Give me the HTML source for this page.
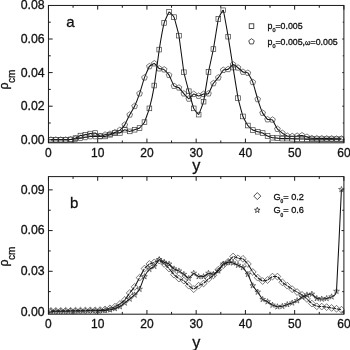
<!DOCTYPE html>
<html><head><meta charset="utf-8"><title>plot</title><style>html,body{margin:0;padding:0;background:#fff}svg{display:block;will-change:transform}</style></head><body>
<svg width="350" height="350" viewBox="0 0 350 350">
<rect width="350" height="350" fill="#fff"/>
<defs><clipPath id="ca"><rect x="48.45" y="5.45" width="295.95" height="137.35000000000002"/></clipPath><clipPath id="cb"><rect x="48.45" y="176.6" width="295.95" height="137.6"/></clipPath></defs>
<g clip-path="url(#ca)">
<path d="M50.91 139.80C51.11 139.80 55.44 139.80 55.84 139.80C56.23 139.80 60.37 139.80 60.76 139.80C61.15 139.80 65.29 139.81 65.68 139.80C66.08 139.79 70.21 139.50 70.61 139.46C71.00 139.43 75.14 139.01 75.53 138.96C75.93 138.91 80.06 138.19 80.46 138.12C80.85 138.05 84.99 137.35 85.38 137.28C85.77 137.21 89.91 136.47 90.30 136.44C90.70 136.41 94.83 136.44 95.23 136.44C95.62 136.44 99.76 136.51 100.15 136.44C100.55 136.37 104.68 134.86 105.08 134.76C105.47 134.66 109.61 134.01 110.00 133.92C110.39 133.83 114.53 132.56 114.92 132.41C115.32 132.25 119.45 130.36 119.85 130.06C120.24 129.75 124.38 125.46 124.77 124.85C125.17 124.24 129.30 115.51 129.70 114.77C130.09 114.02 134.23 107.05 134.62 106.20C135.01 105.35 139.15 94.74 139.54 93.60C139.94 92.46 144.07 78.73 144.47 77.64C144.86 76.55 149.00 66.95 149.39 66.38C149.79 65.82 153.92 63.44 154.32 63.53C154.71 63.62 158.85 68.33 159.24 68.57C159.63 68.81 163.77 69.31 164.16 69.58C164.56 69.84 168.69 74.46 169.09 75.12C169.48 75.78 173.62 85.54 174.01 86.04C174.41 86.54 178.54 87.42 178.94 87.72C179.33 88.02 183.47 93.16 183.86 93.60C184.25 94.04 188.39 98.79 188.78 98.81C189.18 98.83 193.31 94.22 193.71 94.10C194.10 93.99 198.24 95.95 198.63 95.95C199.03 95.95 203.16 94.20 203.56 94.10C203.95 94.01 208.09 94.03 208.48 93.60C208.87 93.17 213.01 83.99 213.40 83.35C213.80 82.71 217.93 78.17 218.33 77.64C218.72 77.11 222.86 70.42 223.25 70.08C223.65 69.74 227.78 69.46 228.18 69.24C228.57 69.02 232.71 64.60 233.10 64.54C233.49 64.48 237.63 67.43 238.02 67.73C238.42 68.02 242.55 71.72 242.95 71.93C243.34 72.14 247.48 72.53 247.87 72.94C248.27 73.35 252.40 81.12 252.80 82.18C253.19 83.23 257.33 98.08 257.72 99.31C258.11 100.54 262.25 112.11 262.64 112.92C263.04 113.73 267.17 119.20 267.57 119.47C267.96 119.75 272.10 119.42 272.49 119.81C272.89 120.19 277.02 128.52 277.42 129.05C277.81 129.58 281.95 132.80 282.34 133.08C282.73 133.36 286.87 135.81 287.26 135.94C287.66 136.06 291.79 136.27 292.19 136.27C292.58 136.27 296.72 135.97 297.11 135.94C297.51 135.90 301.64 135.39 302.04 135.43C302.43 135.47 306.57 136.83 306.96 136.94C307.35 137.06 311.49 138.23 311.88 138.29C312.28 138.35 316.41 138.45 316.81 138.46C317.20 138.46 321.34 138.45 321.73 138.46C322.13 138.46 326.26 138.62 326.66 138.62C327.05 138.63 331.19 138.62 331.58 138.62C331.97 138.63 336.11 138.79 336.50 138.79C336.90 138.80 341.23 138.79 341.43 138.79" fill="none" stroke="#111" stroke-width="1.05" stroke-linejoin="round"/>
<g fill="none" stroke="#333" stroke-width="0.65">
<polygon points="50.91,136.80 53.77,138.87 52.68,142.23 49.15,142.23 48.06,138.87"/>
<polygon points="55.84,136.80 58.69,138.87 57.60,142.23 54.07,142.23 52.98,138.87"/>
<polygon points="60.76,136.80 63.61,138.87 62.52,142.23 59.00,142.23 57.91,138.87"/>
<polygon points="65.68,136.80 68.54,138.87 67.45,142.23 63.92,142.23 62.83,138.87"/>
<polygon points="70.61,136.46 73.46,138.54 72.37,141.89 68.84,141.89 67.75,138.54"/>
<polygon points="75.53,135.96 78.39,138.03 77.30,141.39 73.77,141.39 72.68,138.03"/>
<polygon points="80.46,135.12 83.31,137.19 82.22,140.55 78.69,140.55 77.60,137.19"/>
<polygon points="85.38,134.28 88.23,136.35 87.14,139.71 83.62,139.71 82.53,136.35"/>
<polygon points="90.30,133.44 93.16,135.51 92.07,138.87 88.54,138.87 87.45,135.51"/>
<polygon points="95.23,133.44 98.08,135.51 96.99,138.87 93.46,138.87 92.37,135.51"/>
<polygon points="100.15,133.44 103.01,135.51 101.92,138.87 98.39,138.87 97.30,135.51"/>
<polygon points="105.08,131.76 107.93,133.83 106.84,137.19 103.31,137.19 102.22,133.83"/>
<polygon points="110.00,130.92 112.85,132.99 111.76,136.35 108.24,136.35 107.15,132.99"/>
<polygon points="114.92,129.41 117.78,131.48 116.69,134.84 113.16,134.84 112.07,131.48"/>
<polygon points="119.85,127.06 122.70,129.13 121.61,132.48 118.08,132.48 116.99,129.13"/>
<polygon points="124.77,121.85 127.63,123.92 126.54,127.28 123.01,127.28 121.92,123.92"/>
<polygon points="129.70,111.77 132.55,113.84 131.46,117.20 127.93,117.20 126.84,113.84"/>
<polygon points="134.62,103.20 137.47,105.27 136.38,108.63 132.86,108.63 131.77,105.27"/>
<polygon points="139.54,90.60 142.40,92.67 141.31,96.03 137.78,96.03 136.69,92.67"/>
<polygon points="144.47,74.64 147.32,76.71 146.23,80.07 142.70,80.07 141.61,76.71"/>
<polygon points="149.39,63.38 152.25,65.46 151.16,68.81 147.63,68.81 146.54,65.46"/>
<polygon points="154.32,60.53 157.17,62.60 156.08,65.96 152.55,65.96 151.46,62.60"/>
<polygon points="159.24,65.57 162.09,67.64 161.00,71.00 157.48,71.00 156.39,67.64"/>
<polygon points="164.16,66.58 167.02,68.65 165.93,72.00 162.40,72.00 161.31,68.65"/>
<polygon points="169.09,72.12 171.94,74.19 170.85,77.55 167.32,77.55 166.23,74.19"/>
<polygon points="174.01,83.04 176.87,85.11 175.78,88.47 172.25,88.47 171.16,85.11"/>
<polygon points="178.94,84.72 181.79,86.79 180.70,90.15 177.17,90.15 176.08,86.79"/>
<polygon points="183.86,90.60 186.71,92.67 185.62,96.03 182.10,96.03 181.01,92.67"/>
<polygon points="188.78,95.81 191.64,97.88 190.55,101.24 187.02,101.24 185.93,97.88"/>
<polygon points="193.71,91.10 196.56,93.18 195.47,96.53 191.94,96.53 190.85,93.18"/>
<polygon points="198.63,92.95 201.49,95.02 200.40,98.38 196.87,98.38 195.78,95.02"/>
<polygon points="203.56,91.10 206.41,93.18 205.32,96.53 201.79,96.53 200.70,93.18"/>
<polygon points="208.48,90.60 211.33,92.67 210.24,96.03 206.72,96.03 205.63,92.67"/>
<polygon points="213.40,80.35 216.26,82.42 215.17,85.78 211.64,85.78 210.55,82.42"/>
<polygon points="218.33,74.64 221.18,76.71 220.09,80.07 216.56,80.07 215.47,76.71"/>
<polygon points="223.25,67.08 226.11,69.15 225.02,72.51 221.49,72.51 220.40,69.15"/>
<polygon points="228.18,66.24 231.03,68.31 229.94,71.67 226.41,71.67 225.32,68.31"/>
<polygon points="233.10,61.54 235.95,63.61 234.86,66.96 231.34,66.96 230.25,63.61"/>
<polygon points="238.02,64.73 240.88,66.80 239.79,70.16 236.26,70.16 235.17,66.80"/>
<polygon points="242.95,68.93 245.80,71.00 244.71,74.36 241.18,74.36 240.09,71.00"/>
<polygon points="247.87,69.94 250.73,72.01 249.64,75.36 246.11,75.36 245.02,72.01"/>
<polygon points="252.80,79.18 255.65,81.25 254.56,84.60 251.03,84.60 249.94,81.25"/>
<polygon points="257.72,96.31 260.57,98.38 259.48,101.74 255.96,101.74 254.87,98.38"/>
<polygon points="262.64,109.92 265.50,111.99 264.41,115.35 260.88,115.35 259.79,111.99"/>
<polygon points="267.57,116.47 270.42,118.54 269.33,121.90 265.80,121.90 264.71,118.54"/>
<polygon points="272.49,116.81 275.35,118.88 274.26,122.24 270.73,122.24 269.64,118.88"/>
<polygon points="277.42,126.05 280.27,128.12 279.18,131.48 275.65,131.48 274.56,128.12"/>
<polygon points="282.34,130.08 285.19,132.15 284.10,135.51 280.58,135.51 279.49,132.15"/>
<polygon points="287.26,132.94 290.12,135.01 289.03,138.36 285.50,138.36 284.41,135.01"/>
<polygon points="292.19,133.27 295.04,135.34 293.95,138.70 290.42,138.70 289.33,135.34"/>
<polygon points="297.11,132.94 299.97,135.01 298.88,138.36 295.35,138.36 294.26,135.01"/>
<polygon points="302.04,132.43 304.89,134.50 303.80,137.86 300.27,137.86 299.18,134.50"/>
<polygon points="306.96,133.94 309.81,136.02 308.72,139.37 305.20,139.37 304.11,136.02"/>
<polygon points="311.88,135.29 314.74,137.36 313.65,140.72 310.12,140.72 309.03,137.36"/>
<polygon points="316.81,135.46 319.66,137.53 318.57,140.88 315.04,140.88 313.95,137.53"/>
<polygon points="321.73,135.46 324.59,137.53 323.50,140.88 319.97,140.88 318.88,137.53"/>
<polygon points="326.66,135.62 329.51,137.70 328.42,141.05 324.89,141.05 323.80,137.70"/>
<polygon points="331.58,135.62 334.43,137.70 333.34,141.05 329.82,141.05 328.73,137.70"/>
<polygon points="336.50,135.79 339.36,137.86 338.27,141.22 334.74,141.22 333.65,137.86"/>
<polygon points="341.43,135.79 344.28,137.86 343.19,141.22 339.66,141.22 338.57,137.86"/>
</g></g>
<g clip-path="url(#ca)">
<path d="M50.91 139.80C51.11 139.80 55.44 139.80 55.84 139.80C56.23 139.80 60.37 139.80 60.76 139.80C61.15 139.80 65.29 139.81 65.68 139.80C66.08 139.79 70.21 139.53 70.61 139.46C71.00 139.40 75.14 138.27 75.53 138.12C75.93 137.97 80.06 135.73 80.46 135.60C80.85 135.47 84.99 134.84 85.38 134.76C85.77 134.68 89.91 133.65 90.30 133.58C90.70 133.52 94.83 132.98 95.23 133.08C95.62 133.18 99.76 135.97 100.15 136.10C100.55 136.24 104.68 136.49 105.08 136.44C105.47 136.39 109.61 134.89 110.00 134.76C110.39 134.63 114.53 133.15 114.92 133.08C115.32 133.01 119.45 133.05 119.85 132.91C120.24 132.78 124.38 129.78 124.77 129.72C125.17 129.66 129.30 131.40 129.70 131.40C130.09 131.40 134.23 129.85 134.62 129.72C135.01 129.59 139.15 128.34 139.54 128.04C139.94 127.74 144.07 122.95 144.47 122.16C144.86 121.37 149.00 109.85 149.39 108.38C149.79 106.92 153.92 87.89 154.32 85.54C154.71 83.18 158.85 52.09 159.24 49.58C159.63 47.08 163.77 24.38 164.16 22.87C164.56 21.37 168.69 12.18 169.09 11.95C169.48 11.72 173.62 16.21 174.01 17.16C174.41 18.11 178.54 33.44 178.94 35.64C179.33 37.84 183.47 70.04 183.86 72.26C184.25 74.49 188.39 89.80 188.78 91.25C189.18 92.69 193.31 107.45 193.71 108.38C194.10 109.32 198.24 114.87 198.63 114.60C199.03 114.33 203.16 103.37 203.56 101.66C203.95 99.96 208.09 74.03 208.48 71.93C208.87 69.82 213.01 51.20 213.40 49.08C213.80 46.96 217.93 20.56 218.33 19.01C218.72 17.46 222.86 9.57 223.25 10.27C223.65 10.98 227.78 34.36 228.18 36.65C228.57 38.94 232.71 65.10 233.10 67.56C233.49 70.02 237.63 96.18 238.02 98.14C238.42 100.09 242.55 115.35 242.95 116.45C243.34 117.54 247.48 124.98 247.87 125.52C248.27 126.06 252.40 129.81 252.80 130.06C253.19 130.30 257.33 131.62 257.72 131.74C258.11 131.86 262.25 132.91 262.64 133.08C263.04 133.25 267.17 135.75 267.57 135.94C267.96 136.12 272.10 137.61 272.49 137.70C272.89 137.79 277.02 138.08 277.42 138.12C277.81 138.16 281.95 138.60 282.34 138.62C282.73 138.64 286.87 138.62 287.26 138.62C287.66 138.63 291.79 138.78 292.19 138.79C292.58 138.81 296.72 138.95 297.11 138.96C297.51 138.97 301.64 138.95 302.04 138.96C302.43 138.97 306.57 139.12 306.96 139.13C307.35 139.13 311.49 139.12 311.88 139.13C312.28 139.13 316.41 139.29 316.81 139.30C317.20 139.30 321.34 139.30 321.73 139.30C322.13 139.30 326.26 139.30 326.66 139.30C327.05 139.30 331.19 139.30 331.58 139.30C331.97 139.30 336.11 139.30 336.50 139.30C336.90 139.30 341.23 139.30 341.43 139.30" fill="none" stroke="#111" stroke-width="1.05" stroke-linejoin="round"/>
<g fill="none" stroke="#333" stroke-width="0.65">
<rect x="48.56" y="137.45" width="4.70" height="4.70"/>
<rect x="53.49" y="137.45" width="4.70" height="4.70"/>
<rect x="58.41" y="137.45" width="4.70" height="4.70"/>
<rect x="63.33" y="137.45" width="4.70" height="4.70"/>
<rect x="68.26" y="137.11" width="4.70" height="4.70"/>
<rect x="73.18" y="135.77" width="4.70" height="4.70"/>
<rect x="78.11" y="133.25" width="4.70" height="4.70"/>
<rect x="83.03" y="132.41" width="4.70" height="4.70"/>
<rect x="87.95" y="131.23" width="4.70" height="4.70"/>
<rect x="92.88" y="130.73" width="4.70" height="4.70"/>
<rect x="97.80" y="133.75" width="4.70" height="4.70"/>
<rect x="102.73" y="134.09" width="4.70" height="4.70"/>
<rect x="107.65" y="132.41" width="4.70" height="4.70"/>
<rect x="112.57" y="130.73" width="4.70" height="4.70"/>
<rect x="117.50" y="130.56" width="4.70" height="4.70"/>
<rect x="122.42" y="127.37" width="4.70" height="4.70"/>
<rect x="127.35" y="129.05" width="4.70" height="4.70"/>
<rect x="132.27" y="127.37" width="4.70" height="4.70"/>
<rect x="137.19" y="125.69" width="4.70" height="4.70"/>
<rect x="142.12" y="119.81" width="4.70" height="4.70"/>
<rect x="147.04" y="106.03" width="4.70" height="4.70"/>
<rect x="151.97" y="83.19" width="4.70" height="4.70"/>
<rect x="156.89" y="47.23" width="4.70" height="4.70"/>
<rect x="161.81" y="20.52" width="4.70" height="4.70"/>
<rect x="166.74" y="9.60" width="4.70" height="4.70"/>
<rect x="171.66" y="14.81" width="4.70" height="4.70"/>
<rect x="176.59" y="33.29" width="4.70" height="4.70"/>
<rect x="181.51" y="69.91" width="4.70" height="4.70"/>
<rect x="186.43" y="88.90" width="4.70" height="4.70"/>
<rect x="191.36" y="106.03" width="4.70" height="4.70"/>
<rect x="196.28" y="112.25" width="4.70" height="4.70"/>
<rect x="201.21" y="99.31" width="4.70" height="4.70"/>
<rect x="206.13" y="69.58" width="4.70" height="4.70"/>
<rect x="211.05" y="46.73" width="4.70" height="4.70"/>
<rect x="215.98" y="16.66" width="4.70" height="4.70"/>
<rect x="220.90" y="7.92" width="4.70" height="4.70"/>
<rect x="225.83" y="34.30" width="4.70" height="4.70"/>
<rect x="230.75" y="65.21" width="4.70" height="4.70"/>
<rect x="235.67" y="95.79" width="4.70" height="4.70"/>
<rect x="240.60" y="114.10" width="4.70" height="4.70"/>
<rect x="245.52" y="123.17" width="4.70" height="4.70"/>
<rect x="250.45" y="127.71" width="4.70" height="4.70"/>
<rect x="255.37" y="129.39" width="4.70" height="4.70"/>
<rect x="260.29" y="130.73" width="4.70" height="4.70"/>
<rect x="265.22" y="133.59" width="4.70" height="4.70"/>
<rect x="270.14" y="135.35" width="4.70" height="4.70"/>
<rect x="275.07" y="135.77" width="4.70" height="4.70"/>
<rect x="279.99" y="136.27" width="4.70" height="4.70"/>
<rect x="284.91" y="136.27" width="4.70" height="4.70"/>
<rect x="289.84" y="136.44" width="4.70" height="4.70"/>
<rect x="294.76" y="136.61" width="4.70" height="4.70"/>
<rect x="299.69" y="136.61" width="4.70" height="4.70"/>
<rect x="304.61" y="136.78" width="4.70" height="4.70"/>
<rect x="309.53" y="136.78" width="4.70" height="4.70"/>
<rect x="314.46" y="136.95" width="4.70" height="4.70"/>
<rect x="319.38" y="136.95" width="4.70" height="4.70"/>
<rect x="324.31" y="136.95" width="4.70" height="4.70"/>
<rect x="329.23" y="136.95" width="4.70" height="4.70"/>
<rect x="334.15" y="136.95" width="4.70" height="4.70"/>
<rect x="339.08" y="136.95" width="4.70" height="4.70"/>
</g></g>
<g clip-path="url(#cb)">
<path d="M50.91 310.91C51.11 310.91 55.44 310.91 55.84 310.91C56.23 310.91 60.37 310.92 60.76 310.91C61.15 310.91 65.29 310.78 65.68 310.78C66.08 310.77 70.21 310.78 70.61 310.78C71.00 310.77 75.14 310.65 75.53 310.64C75.93 310.64 80.06 310.65 80.46 310.64C80.85 310.64 84.99 310.52 85.38 310.51C85.77 310.50 89.91 310.38 90.30 310.37C90.70 310.37 94.83 310.38 95.23 310.37C95.62 310.36 99.76 310.14 100.15 310.10C100.55 310.06 104.68 309.49 105.08 309.42C105.47 309.35 109.61 308.44 110.00 308.34C110.39 308.23 114.53 306.88 114.92 306.71C115.32 306.53 119.45 304.27 119.85 303.99C120.24 303.72 124.38 300.36 124.77 299.92C125.17 299.48 129.30 293.52 129.70 293.00C130.09 292.48 134.23 287.51 134.62 286.90C135.01 286.28 139.15 278.40 139.54 277.67C139.94 276.94 144.07 269.12 144.47 268.58C144.86 268.03 149.00 264.21 149.39 263.96C149.79 263.71 153.92 262.47 154.32 262.33C154.71 262.20 158.85 260.50 159.24 260.57C159.63 260.63 163.77 263.64 164.16 263.96C164.56 264.28 168.69 268.15 169.09 268.58C169.48 269.00 173.62 274.28 174.01 274.68C174.41 275.08 178.54 278.38 178.94 278.62C179.33 278.86 183.47 280.37 183.86 280.65C184.25 280.94 188.39 285.33 188.78 285.67C189.18 286.02 193.31 289.20 193.71 289.20C194.10 289.20 198.24 285.90 198.63 285.67C199.03 285.45 203.16 283.77 203.56 283.50C203.95 283.23 208.09 279.21 208.48 278.89C208.87 278.56 213.01 275.73 213.40 275.36C213.80 274.99 217.93 270.07 218.33 269.66C218.72 269.25 222.86 265.50 223.25 265.18C223.65 264.87 227.78 262.14 228.18 261.79C228.57 261.44 232.71 256.64 233.10 256.50C233.49 256.36 237.63 258.17 238.02 258.26C238.42 258.36 242.55 258.58 242.95 258.81C243.34 259.03 247.48 263.44 247.87 263.96C248.27 264.49 252.40 271.42 252.80 271.97C253.19 272.52 257.33 277.30 257.72 277.67C258.11 278.03 262.25 280.97 262.64 281.06C263.04 281.15 267.17 280.15 267.57 279.97C267.96 279.80 272.10 276.72 272.49 276.58C272.89 276.45 277.02 276.35 277.42 276.58C277.81 276.81 281.95 281.92 282.34 282.28C282.73 282.65 286.87 285.40 287.26 285.67C287.66 285.95 291.79 288.95 292.19 289.20C292.58 289.46 296.72 291.82 297.11 292.05C297.51 292.28 301.64 294.62 302.04 294.90C302.43 295.18 306.57 298.63 306.96 298.97C307.35 299.32 311.49 303.29 311.88 303.59C312.28 303.88 316.41 306.18 316.81 306.30C317.20 306.42 321.34 306.54 321.73 306.57C322.13 306.60 326.26 307.06 326.66 307.11C327.05 307.17 331.19 307.86 331.58 307.93C331.97 307.99 336.11 308.67 336.50 308.74C336.90 308.81 341.23 309.66 341.43 309.69" fill="none" stroke="#111" stroke-width="1.05" stroke-linejoin="round"/>
<g fill="#fff" stroke="none">
<polygon points="50.91,310.16 51.66,310.91 50.91,311.66 50.16,310.91"/>
<polygon points="55.84,310.16 56.59,310.91 55.84,311.66 55.09,310.91"/>
<polygon points="60.76,310.16 61.51,310.91 60.76,311.66 60.01,310.91"/>
<polygon points="65.68,310.03 66.43,310.78 65.68,311.53 64.93,310.78"/>
<polygon points="70.61,310.03 71.36,310.78 70.61,311.53 69.86,310.78"/>
<polygon points="75.53,309.89 76.28,310.64 75.53,311.39 74.78,310.64"/>
<polygon points="80.46,309.89 81.21,310.64 80.46,311.39 79.71,310.64"/>
<polygon points="85.38,309.76 86.13,310.51 85.38,311.26 84.63,310.51"/>
<polygon points="90.30,309.62 91.05,310.37 90.30,311.12 89.55,310.37"/>
<polygon points="95.23,309.62 95.98,310.37 95.23,311.12 94.48,310.37"/>
<polygon points="100.15,309.35 100.90,310.10 100.15,310.85 99.40,310.10"/>
<polygon points="105.08,308.67 105.83,309.42 105.08,310.17 104.33,309.42"/>
<polygon points="110.00,307.59 110.75,308.34 110.00,309.09 109.25,308.34"/>
<polygon points="114.92,305.96 115.67,306.71 114.92,307.46 114.17,306.71"/>
<polygon points="119.85,303.24 120.60,303.99 119.85,304.74 119.10,303.99"/>
<polygon points="124.77,299.17 125.52,299.92 124.77,300.67 124.02,299.92"/>
<polygon points="129.70,292.25 130.45,293.00 129.70,293.75 128.95,293.00"/>
<polygon points="134.62,286.15 135.37,286.90 134.62,287.65 133.87,286.90"/>
<polygon points="139.54,276.92 140.29,277.67 139.54,278.42 138.79,277.67"/>
<polygon points="144.47,267.83 145.22,268.58 144.47,269.33 143.72,268.58"/>
<polygon points="149.39,263.21 150.14,263.96 149.39,264.71 148.64,263.96"/>
<polygon points="154.32,261.58 155.07,262.33 154.32,263.08 153.57,262.33"/>
<polygon points="159.24,259.82 159.99,260.57 159.24,261.32 158.49,260.57"/>
<polygon points="164.16,263.21 164.91,263.96 164.16,264.71 163.41,263.96"/>
<polygon points="169.09,267.83 169.84,268.58 169.09,269.33 168.34,268.58"/>
<polygon points="174.01,273.93 174.76,274.68 174.01,275.43 173.26,274.68"/>
<polygon points="178.94,277.87 179.69,278.62 178.94,279.37 178.19,278.62"/>
<polygon points="183.86,279.90 184.61,280.65 183.86,281.40 183.11,280.65"/>
<polygon points="188.78,284.92 189.53,285.67 188.78,286.42 188.03,285.67"/>
<polygon points="193.71,288.45 194.46,289.20 193.71,289.95 192.96,289.20"/>
<polygon points="198.63,284.92 199.38,285.67 198.63,286.42 197.88,285.67"/>
<polygon points="203.56,282.75 204.31,283.50 203.56,284.25 202.81,283.50"/>
<polygon points="208.48,278.14 209.23,278.89 208.48,279.64 207.73,278.89"/>
<polygon points="213.40,274.61 214.15,275.36 213.40,276.11 212.65,275.36"/>
<polygon points="218.33,268.91 219.08,269.66 218.33,270.41 217.58,269.66"/>
<polygon points="223.25,264.43 224.00,265.18 223.25,265.93 222.50,265.18"/>
<polygon points="228.18,261.04 228.93,261.79 228.18,262.54 227.43,261.79"/>
<polygon points="233.10,255.75 233.85,256.50 233.10,257.25 232.35,256.50"/>
<polygon points="238.02,257.51 238.77,258.26 238.02,259.01 237.27,258.26"/>
<polygon points="242.95,258.06 243.70,258.81 242.95,259.56 242.20,258.81"/>
<polygon points="247.87,263.21 248.62,263.96 247.87,264.71 247.12,263.96"/>
<polygon points="252.80,271.22 253.55,271.97 252.80,272.72 252.05,271.97"/>
<polygon points="257.72,276.92 258.47,277.67 257.72,278.42 256.97,277.67"/>
<polygon points="262.64,280.31 263.39,281.06 262.64,281.81 261.89,281.06"/>
<polygon points="267.57,279.22 268.32,279.97 267.57,280.72 266.82,279.97"/>
<polygon points="272.49,275.83 273.24,276.58 272.49,277.33 271.74,276.58"/>
<polygon points="277.42,275.83 278.17,276.58 277.42,277.33 276.67,276.58"/>
<polygon points="282.34,281.53 283.09,282.28 282.34,283.03 281.59,282.28"/>
<polygon points="287.26,284.92 288.01,285.67 287.26,286.42 286.51,285.67"/>
<polygon points="292.19,288.45 292.94,289.20 292.19,289.95 291.44,289.20"/>
<polygon points="297.11,291.30 297.86,292.05 297.11,292.80 296.36,292.05"/>
<polygon points="302.04,294.15 302.79,294.90 302.04,295.65 301.29,294.90"/>
<polygon points="306.96,298.22 307.71,298.97 306.96,299.72 306.21,298.97"/>
<polygon points="311.88,302.84 312.63,303.59 311.88,304.34 311.13,303.59"/>
<polygon points="316.81,305.55 317.56,306.30 316.81,307.05 316.06,306.30"/>
<polygon points="321.73,305.82 322.48,306.57 321.73,307.32 320.98,306.57"/>
<polygon points="326.66,306.36 327.41,307.11 326.66,307.86 325.91,307.11"/>
<polygon points="331.58,307.18 332.33,307.93 331.58,308.68 330.83,307.93"/>
<polygon points="336.50,307.99 337.25,308.74 336.50,309.49 335.75,308.74"/>
<polygon points="341.43,308.94 342.18,309.69 341.43,310.44 340.68,309.69"/>
</g>
<g fill="none" stroke="#333" stroke-width="0.65">
<polygon points="50.91,307.51 54.31,310.91 50.91,314.31 47.51,310.91"/>
<polygon points="55.84,307.51 59.24,310.91 55.84,314.31 52.44,310.91"/>
<polygon points="60.76,307.51 64.16,310.91 60.76,314.31 57.36,310.91"/>
<polygon points="65.68,307.38 69.08,310.78 65.68,314.18 62.28,310.78"/>
<polygon points="70.61,307.38 74.01,310.78 70.61,314.18 67.21,310.78"/>
<polygon points="75.53,307.24 78.93,310.64 75.53,314.04 72.13,310.64"/>
<polygon points="80.46,307.24 83.86,310.64 80.46,314.04 77.06,310.64"/>
<polygon points="85.38,307.11 88.78,310.51 85.38,313.91 81.98,310.51"/>
<polygon points="90.30,306.97 93.70,310.37 90.30,313.77 86.90,310.37"/>
<polygon points="95.23,306.97 98.63,310.37 95.23,313.77 91.83,310.37"/>
<polygon points="100.15,306.70 103.55,310.10 100.15,313.50 96.75,310.10"/>
<polygon points="105.08,306.02 108.48,309.42 105.08,312.82 101.68,309.42"/>
<polygon points="110.00,304.94 113.40,308.34 110.00,311.74 106.60,308.34"/>
<polygon points="114.92,303.31 118.32,306.71 114.92,310.11 111.52,306.71"/>
<polygon points="119.85,300.59 123.25,303.99 119.85,307.39 116.45,303.99"/>
<polygon points="124.77,296.52 128.17,299.92 124.77,303.32 121.37,299.92"/>
<polygon points="129.70,289.60 133.10,293.00 129.70,296.40 126.30,293.00"/>
<polygon points="134.62,283.50 138.02,286.90 134.62,290.30 131.22,286.90"/>
<polygon points="139.54,274.27 142.94,277.67 139.54,281.07 136.14,277.67"/>
<polygon points="144.47,265.18 147.87,268.58 144.47,271.98 141.07,268.58"/>
<polygon points="149.39,260.56 152.79,263.96 149.39,267.36 145.99,263.96"/>
<polygon points="154.32,258.93 157.72,262.33 154.32,265.73 150.92,262.33"/>
<polygon points="159.24,257.17 162.64,260.57 159.24,263.97 155.84,260.57"/>
<polygon points="164.16,260.56 167.56,263.96 164.16,267.36 160.76,263.96"/>
<polygon points="169.09,265.18 172.49,268.58 169.09,271.98 165.69,268.58"/>
<polygon points="174.01,271.28 177.41,274.68 174.01,278.08 170.61,274.68"/>
<polygon points="178.94,275.22 182.34,278.62 178.94,282.02 175.54,278.62"/>
<polygon points="183.86,277.25 187.26,280.65 183.86,284.05 180.46,280.65"/>
<polygon points="188.78,282.27 192.18,285.67 188.78,289.07 185.38,285.67"/>
<polygon points="193.71,285.80 197.11,289.20 193.71,292.60 190.31,289.20"/>
<polygon points="198.63,282.27 202.03,285.67 198.63,289.07 195.23,285.67"/>
<polygon points="203.56,280.10 206.96,283.50 203.56,286.90 200.16,283.50"/>
<polygon points="208.48,275.49 211.88,278.89 208.48,282.29 205.08,278.89"/>
<polygon points="213.40,271.96 216.80,275.36 213.40,278.76 210.00,275.36"/>
<polygon points="218.33,266.26 221.73,269.66 218.33,273.06 214.93,269.66"/>
<polygon points="223.25,261.78 226.65,265.18 223.25,268.58 219.85,265.18"/>
<polygon points="228.18,258.39 231.58,261.79 228.18,265.19 224.78,261.79"/>
<polygon points="233.10,253.10 236.50,256.50 233.10,259.90 229.70,256.50"/>
<polygon points="238.02,254.86 241.42,258.26 238.02,261.66 234.62,258.26"/>
<polygon points="242.95,255.41 246.35,258.81 242.95,262.21 239.55,258.81"/>
<polygon points="247.87,260.56 251.27,263.96 247.87,267.36 244.47,263.96"/>
<polygon points="252.80,268.57 256.20,271.97 252.80,275.37 249.40,271.97"/>
<polygon points="257.72,274.27 261.12,277.67 257.72,281.07 254.32,277.67"/>
<polygon points="262.64,277.66 266.04,281.06 262.64,284.46 259.24,281.06"/>
<polygon points="267.57,276.57 270.97,279.97 267.57,283.37 264.17,279.97"/>
<polygon points="272.49,273.18 275.89,276.58 272.49,279.98 269.09,276.58"/>
<polygon points="277.42,273.18 280.82,276.58 277.42,279.98 274.02,276.58"/>
<polygon points="282.34,278.88 285.74,282.28 282.34,285.68 278.94,282.28"/>
<polygon points="287.26,282.27 290.66,285.67 287.26,289.07 283.86,285.67"/>
<polygon points="292.19,285.80 295.59,289.20 292.19,292.60 288.79,289.20"/>
<polygon points="297.11,288.65 300.51,292.05 297.11,295.45 293.71,292.05"/>
<polygon points="302.04,291.50 305.44,294.90 302.04,298.30 298.64,294.90"/>
<polygon points="306.96,295.57 310.36,298.97 306.96,302.37 303.56,298.97"/>
<polygon points="311.88,300.19 315.28,303.59 311.88,306.99 308.48,303.59"/>
<polygon points="316.81,302.90 320.21,306.30 316.81,309.70 313.41,306.30"/>
<polygon points="321.73,303.17 325.13,306.57 321.73,309.97 318.33,306.57"/>
<polygon points="326.66,303.71 330.06,307.11 326.66,310.51 323.26,307.11"/>
<polygon points="331.58,304.53 334.98,307.93 331.58,311.33 328.18,307.93"/>
<polygon points="336.50,305.34 339.90,308.74 336.50,312.14 333.10,308.74"/>
<polygon points="341.43,306.29 344.83,309.69 341.43,313.09 338.03,309.69"/>
</g></g>
<g clip-path="url(#cb)">
<path d="M50.91 311.19C51.11 311.19 55.44 311.19 55.84 311.19C56.23 311.19 60.37 311.19 60.76 311.19C61.15 311.19 65.29 311.19 65.68 311.19C66.08 311.18 70.21 311.06 70.61 311.05C71.00 311.04 75.14 311.06 75.53 311.05C75.93 311.04 80.06 310.92 80.46 310.91C80.85 310.91 84.99 310.92 85.38 310.91C85.77 310.91 89.91 310.78 90.30 310.78C90.70 310.77 94.83 310.78 95.23 310.78C95.62 310.77 99.76 310.66 100.15 310.64C100.55 310.63 104.68 310.41 105.08 310.37C105.47 310.33 109.61 309.77 110.00 309.69C110.39 309.62 114.53 308.60 114.92 308.47C115.32 308.35 119.45 306.79 119.85 306.57C120.24 306.35 124.38 303.21 124.77 302.91C125.17 302.60 129.30 299.29 129.70 298.97C130.09 298.65 134.23 295.29 134.62 294.90C135.01 294.51 139.15 289.94 139.54 289.20C139.94 288.47 144.07 277.38 144.47 276.58C144.86 275.78 149.00 269.67 149.39 269.25C149.79 268.84 153.92 266.66 154.32 266.27C154.71 265.88 158.85 259.65 159.24 259.48C159.63 259.32 163.77 262.02 164.16 262.20C164.56 262.38 168.69 263.70 169.09 263.96C169.48 264.23 173.62 268.57 174.01 268.85C174.41 269.12 178.54 270.67 178.94 270.88C179.33 271.10 183.47 273.98 183.86 274.28C184.25 274.57 188.39 278.39 188.78 278.35C189.18 278.30 193.31 273.26 193.71 273.19C194.10 273.12 198.24 276.45 198.63 276.58C199.03 276.72 203.16 276.72 203.56 276.58C203.95 276.45 208.09 273.28 208.48 273.19C208.87 273.10 213.01 274.37 213.40 274.28C213.80 274.18 217.93 271.30 218.33 270.88C218.72 270.47 222.86 264.30 223.25 263.96C223.65 263.62 227.78 262.38 228.18 262.33C228.57 262.29 232.71 262.76 233.10 262.88C233.49 262.99 237.63 265.00 238.02 265.18C238.42 265.37 242.55 267.13 242.95 267.49C243.34 267.85 247.48 273.55 247.87 274.28C248.27 275.00 252.40 284.96 252.80 285.67C253.19 286.39 257.33 291.50 257.72 292.05C258.11 292.60 262.25 298.99 262.64 299.38C263.04 299.77 267.17 301.46 267.57 301.69C267.96 301.91 272.10 304.88 272.49 305.08C272.89 305.28 277.02 306.66 277.42 306.71C277.81 306.76 281.95 306.39 282.34 306.30C282.73 306.21 286.87 304.67 287.26 304.54C287.66 304.40 291.79 303.07 292.19 302.91C292.58 302.75 296.72 300.83 297.11 300.60C297.51 300.37 301.64 297.30 302.04 297.07C302.43 296.85 306.57 295.02 306.96 294.90C307.35 294.78 311.49 293.95 311.88 294.09C312.28 294.23 316.41 298.23 316.81 298.43C317.20 298.63 321.34 298.97 321.73 298.97C322.13 298.97 326.26 298.52 326.66 298.43C327.05 298.34 331.19 297.09 331.58 296.80C331.97 296.51 336.11 295.53 336.50 291.24C336.90 286.94 341.23 193.53 341.43 189.46" fill="none" stroke="#111" stroke-width="1.05" stroke-linejoin="round"/>
<g fill="none" stroke="#2a2a2a" stroke-width="0.6">
<polygon points="50.91,308.19 51.59,310.26 53.77,310.26 52.01,311.54 52.68,313.61 50.91,312.34 49.15,313.61 49.82,311.54 48.06,310.26 50.24,310.26"/>
<polygon points="55.84,308.19 56.51,310.26 58.69,310.26 56.93,311.54 57.60,313.61 55.84,312.34 54.07,313.61 54.74,311.54 52.98,310.26 55.16,310.26"/>
<polygon points="60.76,308.19 61.44,310.26 63.61,310.26 61.85,311.54 62.52,313.61 60.76,312.34 59.00,313.61 59.67,311.54 57.91,310.26 60.08,310.26"/>
<polygon points="65.68,308.19 66.36,310.26 68.54,310.26 66.78,311.54 67.45,313.61 65.68,312.34 63.92,313.61 64.59,311.54 62.83,310.26 65.01,310.26"/>
<polygon points="70.61,308.05 71.28,310.12 73.46,310.12 71.70,311.41 72.37,313.48 70.61,312.20 68.84,313.48 69.51,311.41 67.75,310.12 69.93,310.12"/>
<polygon points="75.53,308.05 76.21,310.12 78.39,310.12 76.63,311.41 77.30,313.48 75.53,312.20 73.77,313.48 74.44,311.41 72.68,310.12 74.86,310.12"/>
<polygon points="80.46,307.91 81.13,309.98 83.31,309.99 81.55,311.27 82.22,313.34 80.46,312.06 78.69,313.34 79.36,311.27 77.60,309.99 79.78,309.98"/>
<polygon points="85.38,307.91 86.06,309.98 88.23,309.99 86.47,311.27 87.14,313.34 85.38,312.06 83.62,313.34 84.29,311.27 82.53,309.99 84.70,309.98"/>
<polygon points="90.30,307.78 90.98,309.85 93.16,309.85 91.40,311.13 92.07,313.21 90.30,311.93 88.54,313.21 89.21,311.13 87.45,309.85 89.63,309.85"/>
<polygon points="95.23,307.78 95.90,309.85 98.08,309.85 96.32,311.13 96.99,313.21 95.23,311.93 93.46,313.21 94.13,311.13 92.37,309.85 94.55,309.85"/>
<polygon points="100.15,307.64 100.83,309.71 103.01,309.72 101.25,311.00 101.92,313.07 100.15,311.79 98.39,313.07 99.06,311.00 97.30,309.72 99.48,309.71"/>
<polygon points="105.08,307.37 105.75,309.44 107.93,309.44 106.17,310.73 106.84,312.80 105.08,311.52 103.31,312.80 103.98,310.73 102.22,309.44 104.40,309.44"/>
<polygon points="110.00,306.69 110.68,308.76 112.85,308.77 111.09,310.05 111.76,312.12 110.00,310.84 108.24,312.12 108.91,310.05 107.15,308.77 109.32,308.76"/>
<polygon points="114.92,305.47 115.60,307.54 117.78,307.54 116.02,308.83 116.69,310.90 114.92,309.62 113.16,310.90 113.83,308.83 112.07,307.54 114.25,307.54"/>
<polygon points="119.85,303.57 120.52,305.64 122.70,305.64 120.94,306.93 121.61,309.00 119.85,307.72 118.08,309.00 118.75,306.93 116.99,305.64 119.17,305.64"/>
<polygon points="124.77,299.91 125.45,301.98 127.63,301.98 125.87,303.26 126.54,305.34 124.77,304.06 123.01,305.34 123.68,303.26 121.92,301.98 124.10,301.98"/>
<polygon points="129.70,295.97 130.37,298.04 132.55,298.05 130.79,299.33 131.46,301.40 129.70,300.12 127.93,301.40 128.60,299.33 126.84,298.05 129.02,298.04"/>
<polygon points="134.62,291.90 135.30,293.97 137.47,293.97 135.71,295.26 136.38,297.33 134.62,296.05 132.86,297.33 133.53,295.26 131.77,293.97 133.94,293.97"/>
<polygon points="139.54,286.20 140.22,288.27 142.40,288.28 140.64,289.56 141.31,291.63 139.54,290.35 137.78,291.63 138.45,289.56 136.69,288.28 138.87,288.27"/>
<polygon points="144.47,273.58 145.14,275.65 147.32,275.66 145.56,276.94 146.23,279.01 144.47,277.73 142.70,279.01 143.37,276.94 141.61,275.66 143.79,275.65"/>
<polygon points="149.39,266.25 150.07,268.32 152.25,268.33 150.49,269.61 151.16,271.68 149.39,270.40 147.63,271.68 148.30,269.61 146.54,268.33 148.72,268.32"/>
<polygon points="154.32,263.27 154.99,265.34 157.17,265.34 155.41,266.62 156.08,268.70 154.32,267.42 152.55,268.70 153.22,266.62 151.46,265.34 153.64,265.34"/>
<polygon points="159.24,256.48 159.92,258.55 162.09,258.56 160.33,259.84 161.00,261.91 159.24,260.63 157.48,261.91 158.15,259.84 156.39,258.56 158.56,258.55"/>
<polygon points="164.16,259.20 164.84,261.27 167.02,261.27 165.26,262.55 165.93,264.63 164.16,263.35 162.40,264.63 163.07,262.55 161.31,261.27 163.49,261.27"/>
<polygon points="169.09,260.96 169.76,263.03 171.94,263.04 170.18,264.32 170.85,266.39 169.09,265.11 167.32,266.39 167.99,264.32 166.23,263.04 168.41,263.03"/>
<polygon points="174.01,265.85 174.69,267.92 176.87,267.92 175.11,269.20 175.78,271.27 174.01,270.00 172.25,271.27 172.92,269.20 171.16,267.92 173.34,267.92"/>
<polygon points="178.94,267.88 179.61,269.95 181.79,269.96 180.03,271.24 180.70,273.31 178.94,272.03 177.17,273.31 177.84,271.24 176.08,269.96 178.26,269.95"/>
<polygon points="183.86,271.28 184.54,273.35 186.71,273.35 184.95,274.63 185.62,276.70 183.86,275.43 182.10,276.70 182.77,274.63 181.01,273.35 183.18,273.35"/>
<polygon points="188.78,275.35 189.46,277.42 191.64,277.42 189.88,278.70 190.55,280.77 188.78,279.50 187.02,280.77 187.69,278.70 185.93,277.42 188.11,277.42"/>
<polygon points="193.71,270.19 194.38,272.26 196.56,272.26 194.80,273.55 195.47,275.62 193.71,274.34 191.94,275.62 192.61,273.55 190.85,272.26 193.03,272.26"/>
<polygon points="198.63,273.58 199.31,275.65 201.49,275.66 199.73,276.94 200.40,279.01 198.63,277.73 196.87,279.01 197.54,276.94 195.78,275.66 197.96,275.65"/>
<polygon points="203.56,273.58 204.23,275.65 206.41,275.66 204.65,276.94 205.32,279.01 203.56,277.73 201.79,279.01 202.46,276.94 200.70,275.66 202.88,275.65"/>
<polygon points="208.48,270.19 209.16,272.26 211.33,272.26 209.57,273.55 210.24,275.62 208.48,274.34 206.72,275.62 207.39,273.55 205.63,272.26 207.80,272.26"/>
<polygon points="213.40,271.28 214.08,273.35 216.26,273.35 214.50,274.63 215.17,276.70 213.40,275.43 211.64,276.70 212.31,274.63 210.55,273.35 212.73,273.35"/>
<polygon points="218.33,267.88 219.00,269.95 221.18,269.96 219.42,271.24 220.09,273.31 218.33,272.03 216.56,273.31 217.23,271.24 215.47,269.96 217.65,269.95"/>
<polygon points="223.25,260.96 223.93,263.03 226.11,263.04 224.35,264.32 225.02,266.39 223.25,265.11 221.49,266.39 222.16,264.32 220.40,263.04 222.58,263.03"/>
<polygon points="228.18,259.33 228.85,261.40 231.03,261.41 229.27,262.69 229.94,264.76 228.18,263.48 226.41,264.76 227.08,262.69 225.32,261.41 227.50,261.40"/>
<polygon points="233.10,259.88 233.78,261.95 235.95,261.95 234.19,263.23 234.86,265.30 233.10,264.03 231.34,265.30 232.01,263.23 230.25,261.95 232.42,261.95"/>
<polygon points="238.02,262.18 238.70,264.25 240.88,264.26 239.12,265.54 239.79,267.61 238.02,266.33 236.26,267.61 236.93,265.54 235.17,264.26 237.35,264.25"/>
<polygon points="242.95,264.49 243.62,266.56 245.80,266.56 244.04,267.85 244.71,269.92 242.95,268.64 241.18,269.92 241.85,267.85 240.09,266.56 242.27,266.56"/>
<polygon points="247.87,271.28 248.55,273.35 250.73,273.35 248.97,274.63 249.64,276.70 247.87,275.43 246.11,276.70 246.78,274.63 245.02,273.35 247.20,273.35"/>
<polygon points="252.80,282.67 253.47,284.74 255.65,284.75 253.89,286.03 254.56,288.10 252.80,286.82 251.03,288.10 251.70,286.03 249.94,284.75 252.12,284.74"/>
<polygon points="257.72,289.05 258.40,291.12 260.57,291.13 258.81,292.41 259.48,294.48 257.72,293.20 255.96,294.48 256.63,292.41 254.87,291.13 257.04,291.12"/>
<polygon points="262.64,296.38 263.32,298.45 265.50,298.45 263.74,299.74 264.41,301.81 262.64,300.53 260.88,301.81 261.55,299.74 259.79,298.45 261.97,298.45"/>
<polygon points="267.57,298.69 268.24,300.76 270.42,300.76 268.66,302.04 269.33,304.11 267.57,302.84 265.80,304.11 266.47,302.04 264.71,300.76 266.89,300.76"/>
<polygon points="272.49,302.08 273.17,304.15 275.35,304.15 273.59,305.43 274.26,307.51 272.49,306.23 270.73,307.51 271.40,305.43 269.64,304.15 271.82,304.15"/>
<polygon points="277.42,303.71 278.09,305.78 280.27,305.78 278.51,307.06 279.18,309.13 277.42,307.86 275.65,309.13 276.32,307.06 274.56,305.78 276.74,305.78"/>
<polygon points="282.34,303.30 283.02,305.37 285.19,305.37 283.43,306.66 284.10,308.73 282.34,307.45 280.58,308.73 281.25,306.66 279.49,305.37 281.66,305.37"/>
<polygon points="287.26,301.54 287.94,303.61 290.12,303.61 288.36,304.89 289.03,306.96 287.26,305.69 285.50,306.96 286.17,304.89 284.41,303.61 286.59,303.61"/>
<polygon points="292.19,299.91 292.86,301.98 295.04,301.98 293.28,303.26 293.95,305.34 292.19,304.06 290.42,305.34 291.09,303.26 289.33,301.98 291.51,301.98"/>
<polygon points="297.11,297.60 297.79,299.67 299.97,299.67 298.21,300.96 298.88,303.03 297.11,301.75 295.35,303.03 296.02,300.96 294.26,299.67 296.44,299.67"/>
<polygon points="302.04,294.07 302.71,296.14 304.89,296.15 303.13,297.43 303.80,299.50 302.04,298.22 300.27,299.50 300.94,297.43 299.18,296.15 301.36,296.14"/>
<polygon points="306.96,291.90 307.64,293.97 309.81,293.97 308.05,295.26 308.72,297.33 306.96,296.05 305.20,297.33 305.87,295.26 304.11,293.97 306.28,293.97"/>
<polygon points="311.88,291.09 312.56,293.16 314.74,293.16 312.98,294.44 313.65,296.51 311.88,295.24 310.12,296.51 310.79,294.44 309.03,293.16 311.21,293.16"/>
<polygon points="316.81,295.43 317.48,297.50 319.66,297.50 317.90,298.79 318.57,300.86 316.81,299.58 315.04,300.86 315.71,298.79 313.95,297.50 316.13,297.50"/>
<polygon points="321.73,295.97 322.41,298.04 324.59,298.05 322.83,299.33 323.50,301.40 321.73,300.12 319.97,301.40 320.64,299.33 318.88,298.05 321.06,298.04"/>
<polygon points="326.66,295.43 327.33,297.50 329.51,297.50 327.75,298.79 328.42,300.86 326.66,299.58 324.89,300.86 325.56,298.79 323.80,297.50 325.98,297.50"/>
<polygon points="331.58,293.80 332.26,295.87 334.43,295.87 332.67,297.16 333.34,299.23 331.58,297.95 329.82,299.23 330.49,297.16 328.73,295.87 330.90,295.87"/>
<polygon points="336.50,288.24 337.18,290.31 339.36,290.31 337.60,291.59 338.27,293.66 336.50,292.39 334.74,293.66 335.41,291.59 333.65,290.31 335.83,290.31"/>
<polygon points="341.43,186.46 342.10,188.53 344.28,188.54 342.52,189.82 343.19,191.89 341.43,190.61 339.66,191.89 340.33,189.82 338.57,188.54 340.75,188.53"/>
</g></g>
<g fill="none" stroke="#1a1a1a" stroke-width="1">
<rect x="48.45" y="5.45" width="295.45" height="137.35000000000002"/>
<path d="M48.45 5.45 v4.20 M48.45 142.80 v-4.20"/>
<path d="M73.07 5.45 v2.30 M73.07 142.80 v-2.30"/>
<path d="M97.69 5.45 v4.20 M97.69 142.80 v-4.20"/>
<path d="M122.31 5.45 v2.30 M122.31 142.80 v-2.30"/>
<path d="M146.93 5.45 v4.20 M146.93 142.80 v-4.20"/>
<path d="M171.55 5.45 v2.30 M171.55 142.80 v-2.30"/>
<path d="M196.17 5.45 v4.20 M196.17 142.80 v-4.20"/>
<path d="M220.79 5.45 v2.30 M220.79 142.80 v-2.30"/>
<path d="M245.41 5.45 v4.20 M245.41 142.80 v-4.20"/>
<path d="M270.03 5.45 v2.30 M270.03 142.80 v-2.30"/>
<path d="M294.65 5.45 v4.20 M294.65 142.80 v-4.20"/>
<path d="M319.27 5.45 v2.30 M319.27 142.80 v-2.30"/>
<path d="M343.89 5.45 v4.20 M343.89 142.80 v-4.20"/>
<path d="M48.45 139.80 h4.2 M343.90 139.80 h-1.6"/>
<path d="M48.45 106.20 h4.2 M343.90 106.20 h-1.6"/>
<path d="M48.45 72.60 h4.2 M343.90 72.60 h-1.6"/>
<path d="M48.45 39.00 h4.2 M343.90 39.00 h-1.6"/>
<path d="M48.45 123.00 h2.3 M343.90 123.00 h-1.1199999999999999"/>
<path d="M48.45 89.40 h2.3 M343.90 89.40 h-1.1199999999999999"/>
<path d="M48.45 55.80 h2.3 M343.90 55.80 h-1.1199999999999999"/>
<path d="M48.45 22.20 h2.3 M343.90 22.20 h-1.1199999999999999"/>
<rect x="48.45" y="176.6" width="295.45" height="137.6"/>
<path d="M48.45 176.60 v4.20 M48.45 314.20 v-4.20"/>
<path d="M73.07 176.60 v2.30 M73.07 314.20 v-2.30"/>
<path d="M97.69 176.60 v4.20 M97.69 314.20 v-4.20"/>
<path d="M122.31 176.60 v2.30 M122.31 314.20 v-2.30"/>
<path d="M146.93 176.60 v4.20 M146.93 314.20 v-4.20"/>
<path d="M171.55 176.60 v2.30 M171.55 314.20 v-2.30"/>
<path d="M196.17 176.60 v4.20 M196.17 314.20 v-4.20"/>
<path d="M220.79 176.60 v2.30 M220.79 314.20 v-2.30"/>
<path d="M245.41 176.60 v4.20 M245.41 314.20 v-4.20"/>
<path d="M270.03 176.60 v2.30 M270.03 314.20 v-2.30"/>
<path d="M294.65 176.60 v4.20 M294.65 314.20 v-4.20"/>
<path d="M319.27 176.60 v2.30 M319.27 314.20 v-2.30"/>
<path d="M343.89 176.60 v4.20 M343.89 314.20 v-4.20"/>
<path d="M48.45 312.00 h4.2 M343.90 312.00 h-2.4"/>
<path d="M48.45 271.29 h4.2 M343.90 271.29 h-2.4"/>
<path d="M48.45 230.58 h4.2 M343.90 230.58 h-2.4"/>
<path d="M48.45 189.87 h4.2 M343.90 189.87 h-2.4"/>
<path d="M48.45 291.64 h2.3 M343.90 291.64 h-1.68"/>
<path d="M48.45 250.94 h2.3 M343.90 250.94 h-1.68"/>
<path d="M48.45 210.23 h2.3 M343.90 210.23 h-1.68"/>
</g>
<g font-family="'Liberation Sans', Arial, sans-serif" fill="#111" stroke="#111" stroke-width="0.3">
<g font-size="12.3px" text-anchor="end">
<text x="44.7" y="143.80">0.00</text>
<text x="44.7" y="110.20">0.02</text>
<text x="44.7" y="76.60">0.04</text>
<text x="44.7" y="43.00">0.06</text>
<text x="44.7" y="8.60">0.08</text>
<text x="44.7" y="315.90">0.00</text>
<text x="44.7" y="275.19">0.03</text>
<text x="44.7" y="234.48">0.06</text>
<text x="44.7" y="193.77">0.09</text>
</g>
<g font-size="12px" text-anchor="middle">
<text x="48.45" y="157.4">0</text>
<text x="48.45" y="328.2">0</text>
<text x="97.69" y="157.4">10</text>
<text x="97.69" y="328.2">10</text>
<text x="146.93" y="157.4">20</text>
<text x="146.93" y="328.2">20</text>
<text x="196.17" y="157.4">30</text>
<text x="196.17" y="328.2">30</text>
<text x="245.41" y="157.4">40</text>
<text x="245.41" y="328.2">40</text>
<text x="294.65" y="157.4">50</text>
<text x="294.65" y="328.2">50</text>
<text x="343.89" y="157.4">60</text>
<text x="343.89" y="328.2">60</text>
</g>
<text x="196.3" y="171.0" font-size="16.2px" text-anchor="middle">y</text>
<text x="196.3" y="347.5" font-size="16.2px" text-anchor="middle">y</text>
<text x="66.3" y="27.1" font-size="15px">a</text>
<text x="69.9" y="207.6" font-size="15px">b</text>
<g transform="translate(7.6 89.5) rotate(-90)"><text x="0" y="0" font-size="12.5px">ρ</text><text x="6.4" y="7.8" font-size="10px">cm</text></g>
<g transform="translate(7.6 266.5) rotate(-90)"><text x="0" y="0" font-size="12.5px">ρ</text><text x="6.4" y="7.8" font-size="10px">cm</text></g>
<g font-size="8.8px">
<text x="267.5" y="29.2">p<tspan font-size="5.5px" dy="3.2">0</tspan><tspan dy="-3.2">=0.005</tspan></text>
<text x="267.5" y="44.8">p<tspan font-size="5.5px" dy="3.2">0</tspan><tspan dy="-3.2">=0.005,</tspan><tspan font-size="7px">ω</tspan>=0.005</text>
</g>
<g font-size="9.2px">
<text x="273.4" y="199.6">G<tspan font-size="4.8px" dy="3.4">0</tspan><tspan dy="-3.4">= 0.2</tspan></text>
<text x="273.4" y="213.4">G<tspan font-size="4.8px" dy="3.4">0</tspan><tspan dy="-3.4">= 0.6</tspan></text>
</g>
</g>
<g fill="none" stroke="#222" stroke-width="0.8">
<rect x="249.20" y="23.80" width="4.60" height="4.60"/>
<polygon points="251.50,38.70 254.26,40.70 253.20,43.95 249.80,43.95 248.74,40.70"/>
<polygon points="257.30,192.60 260.80,196.10 257.30,199.60 253.80,196.10"/>
<polygon points="257.30,207.30 258.01,209.23 260.06,209.30 258.44,210.57 259.00,212.55 257.30,211.40 255.60,212.55 256.16,210.57 254.54,209.30 256.59,209.23"/>
</g>
</svg>
</body></html>
